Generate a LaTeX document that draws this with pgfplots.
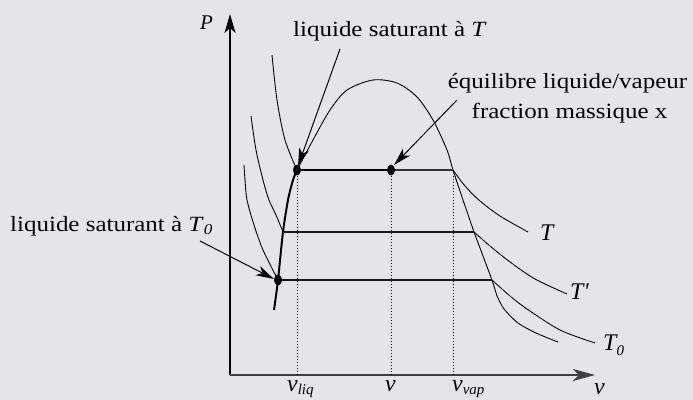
\documentclass[border=0pt]{standalone}
\usepackage{fontspec}
\setmainfont{Liberation Serif}[FakeStretch=1.15]
\newfontfamily\lblfont{Liberation Serif}
\usepackage{pgfplots}
\pgfplotsset{compat=1.18}
\usetikzlibrary{arrows.meta}
\definecolor{bgc}{RGB}{229,229,231}

% subscript in italic, lowered
\newcommand{\sub}[2][4]{\raisebox{-#1bp}{\fontsize{15}{15}\selectfont\itshape #2}}
\newcommand{\annot}{\fontsize{21.8}{26}\selectfont}
\newcommand{\lbl}{\lblfont\fontsize{24}{28}\selectfont\itshape}

\begin{document}
\begin{tikzpicture}
\begin{axis}[
  name=ax,
  width=693bp, height=400bp, scale only axis,
  xmin=0, xmax=693, ymin=0, ymax=400,
  hide axis, clip=false,
]
% background
\fill[bgc] (axis cs:0,0) rectangle (axis cs:693,400);

% P and v axes
\draw[line width=1.1bp, -{Stealth[length=19bp,width=11bp,inset=5bp]}]
  (axis cs:230,25) -- (axis cs:230,386);
\draw[line width=1.5bp, black!75, -{Stealth[length=22bp,width=12bp,inset=6bp]}]
  (axis cs:229.5,25) -- (axis cs:595,25);

% dotted verticals at v_liq, v, v_vap
\addplot[line width=0.9bp, dash pattern=on 0.9bp off 2.1bp] coordinates {(297,25) (297,230)};
\addplot[line width=0.9bp, dash pattern=on 0.9bp off 2.1bp] coordinates {(391,25) (391,230)};
\addplot[line width=0.9bp, dash pattern=on 0.9bp off 2.1bp] coordinates {(453,25) (453,230)};

% saturation dome: top part
\addplot[smooth, line width=0.9bp] coordinates {
  (297,230) (313,260) (330,290) (347,310) (373,320) (397,317) (417,303)
  (433,280) (447,250) (453,230) (463,200)};
% saturated vapour branch, nearly straight, then bending
\addplot[line width=0.9bp] coordinates {(463,200) (474,168) (492,120) (497,104)};
\addplot[smooth, line width=0.9bp] coordinates {
  (497,104) (504,91) (518,77) (536,67) (558,58)};
% saturated liquid branch
\addplot[smooth, line width=2bp] coordinates {
  (274,90) (278,120) (283,168) (288,200) (293,220) (297,230)};

% isotherm T
\addplot[smooth, line width=0.9bp] coordinates {(272,345) (277,300) (285,260) (297,230)};
\addplot[smooth, line width=0.9bp] coordinates {(453,230) (465,214) (480,199) (500,184) (528,168)};
% isotherm T'
\addplot[smooth, line width=0.9bp] coordinates {(251,284) (256,250) (263,220) (269,200) (276,185) (283,168)};
\addplot[smooth, line width=0.9bp] coordinates {(474,168) (490,154) (510,138) (535,121) (567,106)};
% isotherm T0
\addplot[smooth, line width=0.9bp] coordinates {(244,235) (245,220) (247,200) (254,175) (263,150) (278,120)};
\addplot[smooth, line width=0.9bp] coordinates {(492,120) (510,104) (527,91) (560,70) (595,57)};

% plateaus
\addplot[line width=1.7bp] coordinates {(297,230) (391,230)};
\addplot[line width=1.1bp, black!80] coordinates {(391,230) (453,230)};
\addplot[line width=1.2bp, black!90] coordinates {(283,168) (474,168)};
\addplot[line width=1.2bp, black!90] coordinates {(278,120) (492,120)};

% marked states
\addplot[only marks, mark=*, mark size=5.2bp, mark options={xscale=0.72, black}]
  coordinates {(297,230) (391,230) (278,120)};

% annotation arrows
\draw[line width=1bp, -{Stealth[length=18bp,width=10bp,inset=5bp]}]
  (axis cs:340,351) -- (axis cs:298,234);
\draw[line width=1bp, -{Stealth[length=18bp,width=10bp,inset=5bp]}]
  (axis cs:457,300) -- (axis cs:394,235);
\draw[line width=1bp, -{Stealth[length=18bp,width=10bp,inset=5bp]}]
  (axis cs:200,159) -- (axis cs:274,121);

% annotations
\node[anchor=base west, inner sep=0pt] at (axis cs:293,363.3)
  {\annot liquide saturant à \textit{T}};
\node[anchor=base, inner sep=0pt] at (axis cs:567.5,311.5)
  {\annot équilibre liquide/vapeur};
\node[anchor=base, inner sep=0pt] at (axis cs:569.5,282)
  {\annot fraction massique x};
\node[anchor=base west, inner sep=0pt] at (axis cs:10,168.5)
  {\annot liquide saturant à \textit{T}\sub[2.5]{0}};

% axis names
\node[anchor=base west, inner sep=0pt] at (axis cs:200,371)
  {\lblfont\fontsize{21}{25}\selectfont\itshape P};
\node[anchor=base west, inner sep=0pt] at (axis cs:287,9) {\lbl v\sub[3.5]{liq}};
\node[anchor=base west, inner sep=0pt] at (axis cs:385,9) {\lbl v};
\node[anchor=base west, inner sep=0pt] at (axis cs:452,9) {\lbl v\sub[3.5]{vap}};
\node[anchor=base west, inner sep=0pt] at (axis cs:594,6) {\lbl v};

% isotherm names
\node[anchor=base west, inner sep=0pt] at (axis cs:540,160) {\lbl T};
\node[anchor=base west, inner sep=0pt] at (axis cs:570,101) {\lbl T\textquotesingle};
\node[anchor=base west, inner sep=0pt] at (axis cs:603,50) {\lbl T\sub[5]{0}};
\end{axis}
\pgfresetboundingbox
\path (ax.south west) rectangle (ax.north east);
\end{tikzpicture}
\end{document}
